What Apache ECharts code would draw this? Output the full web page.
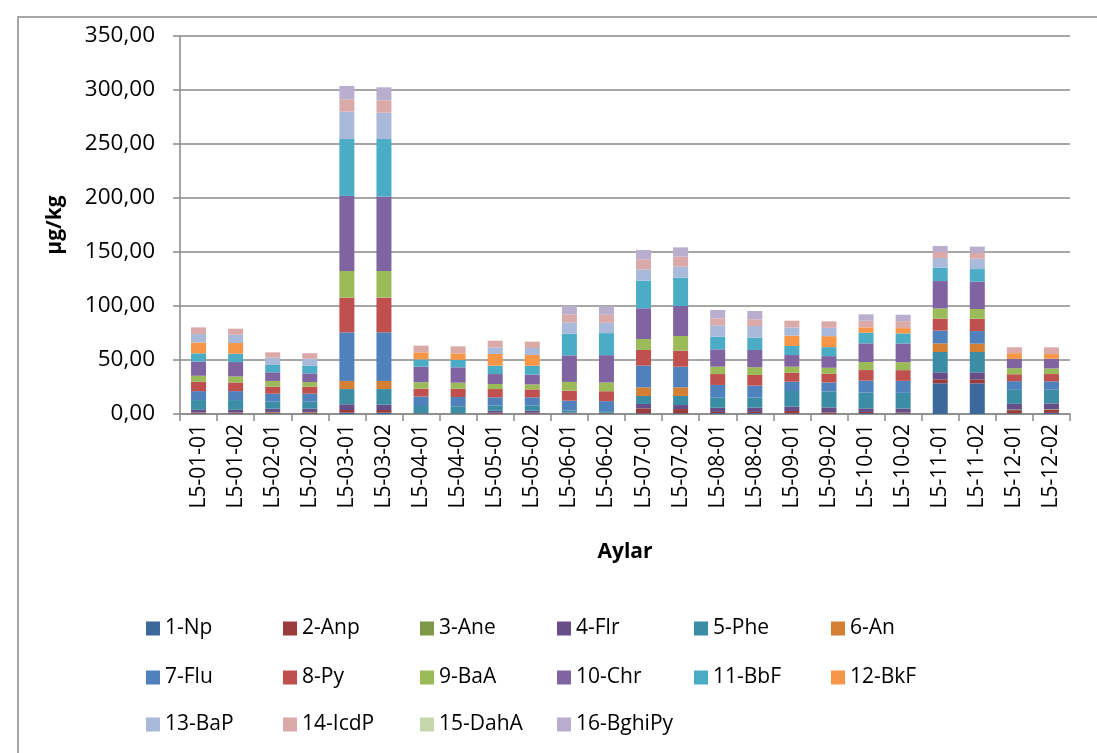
<!DOCTYPE html>
<html>
<head>
<meta charset="utf-8">
<script src="https://cdn.jsdelivr.net/npm/echarts@6/dist/echarts.min.js"></script>
<style>
  html, body { margin: 0; padding: 0; background: #fff; }
  #chart { width: 1097px; height: 753px; }
</style>
</head>
<body>
<div id="chart"></div>
<script>
var categories = ['L5-01-01','L5-01-02','L5-02-01','L5-02-02','L5-03-01','L5-03-02','L5-04-01','L5-04-02',
  'L5-05-01','L5-05-02','L5-06-01','L5-06-02','L5-07-01','L5-07-02','L5-08-01','L5-08-02',
  'L5-09-01','L5-09-02','L5-10-01','L5-10-02','L5-11-01','L5-11-02','L5-12-01','L5-12-02'];

var np     = [0.5,0.5,0.5,0.5,1.2,1.2,0.3,0.3,0.4,0.4,0.3,0.3,0.6,0.6,0.8,0.8,0.6,0.3,0.8,0.6,28.4,28.4,0.6,1];
var anp    = [0.7,0.7,1,1,2.5,2.5,0.3,0.3,0.8,0.8,0.3,0.3,4.6,4,1.1,1.1,2.2,1.2,1.1,0.8,3.7,3.7,3,3];
var ane    = [0.2,0.2,0.4,0.4,0,0,0,0,0,0,0.2,0.2,0,0,0,0,0,0,0,0,0,0,0.5,0.5];
var flr    = [2.5,2.5,3,3,5.3,4.9,0,0,1.8,1.8,0.5,0.3,4.1,3.7,3.9,4,4,4.6,3.3,3.7,6.5,6.5,5.3,5.3];
var phe    = [9,9,6.5,6.5,14.1,14.5,6.8,6.5,5,5,1.8,1.5,7.4,8.4,9.3,9.3,14.5,14.8,14.6,14.5,18.8,18.8,13,12.7];
var an     = [0,0,0,0,7.5,7.5,0,0,0,0,0,0,8,8,0,0,0,0,0,0,8,7.7,0,0];
var flu    = [8.3,8.3,7.4,7.4,45,45,8.7,8.6,7.4,7.4,9.2,9.3,20.1,19.1,11.8,11.1,8.6,8.3,11.1,11.1,11.8,11.7,8,7.7];
var py     = [8.6,8,6.5,6.5,32.1,32.1,7.4,7.7,7.7,7.4,9.3,9.2,14.5,14.8,10.1,9.9,8.3,8,9.8,9.9,11.1,11.4,6.4,6.8];
var baa    = [5.6,5.6,5.3,4.3,24.7,24.7,5.9,5.6,4.7,4.6,8.1,8.1,10.1,13.6,6.8,7.1,5.6,5.6,7.4,7.4,9.5,9,5.6,5.2];
var chr    = [13.2,13.3,8,8,69.5,68.8,14.4,14.2,9.2,9,24.6,25.3,28.5,27.8,16.1,16,10.8,10.8,17.3,17.3,25.3,25.3,8.6,9];
var bbf    = [7.6,7.7,6.8,7,52.7,53.4,6.8,7,7.8,8.3,20.1,20.4,25.6,26.2,11.7,11.4,8.4,8.3,9.9,9.3,12.4,11.7,0,0];
var bkf    = [10,9.9,0,0,0,0,6.5,5.9,10.8,9.9,0,0,0,0,0,0,9.5,10.2,4.9,4.9,0,0,5.3,4.3];
var bap    = [7.8,7.7,6.7,6.5,25.4,24.4,0,0,6.1,6.5,10.4,9.6,10.5,10.2,10.5,10.8,7.7,7.7,0,0,8.9,9.6,0,0];
var icdp   = [6.2,5.6,5,5.2,11.4,11.5,6.2,6.5,6.2,5.9,7.5,7.4,9.2,9.3,6.5,6.2,6.2,6,6.2,6.5,5.6,5.6,5.5,6.2];
var daha   = [0,0,0,0,0,0,0,0,0,0,0,0,0,0,0,0,0,0,0,0,0,0,0,0];
var bghipy = [0,0,0,0,12.3,12,0,0,0,0,8,8,8.7,8.6,7.7,7.7,0,0,5.9,5.9,5.6,5.6,0,0];

var seriesNames = ['1-Np','2-Anp','3-Ane','4-Flr','5-Phe','6-An','7-Flu','8-Py','9-BaA','10-Chr',
  '11-BbF','12-BkF','13-BaP','14-IcdP','15-DahA','16-BghiPy'];
var seriesData = [np, anp, ane, flr, phe, an, flu, py, baa, chr, bbf, bkf, bap, icdp, daha, bghipy];
var colors = ['#3d689c','#9c3c3a','#7e9a48','#664e88','#3a8da4','#d47f33',
  '#4f81bd','#c0504d','#9bbb59','#8064a2','#4bacc6','#f79646',
  '#a9b9d9','#dba9a8','#c6d8ab','#b9aecd'];

var font = 'Open Sans';

function fmt(v) {
  return v.toFixed(2).replace('.', ',');
}

var series = seriesNames.map(function (name, i) {
  return {
    name: name,
    type: 'bar',
    stack: 'total',
    barWidth: 15,
    itemStyle: { color: colors[i] },
    emphasis: { disabled: true },
    data: seriesData[i]
  };
});

// one legend per item so the columns line up like the original
var legendRows = [618, 667, 714];
var legends = seriesNames.map(function (name, i) {
  return {
    data: [name],
    left: 146 + (i % 6) * 137,
    top: legendRows[Math.floor(i / 6)],
    padding: 0,
    icon: 'rect',
    itemWidth: 14,
    itemHeight: 14,
    textStyle: { fontFamily: font, fontSize: 21, color: '#000' }
  };
});

var chart = echarts.init(document.getElementById('chart'));
chart.setOption({
  animation: false,
  color: colors,
  textStyle: { fontFamily: font },
  graphic: [{
    type: 'rect',
    shape: { x: 18, y: 17, width: 1200, height: 900 },
    style: { fill: 'none', stroke: '#8a8a8a', lineWidth: 1.5 },
    silent: true
  }],
  grid: { left: 180, right: 27, top: 36, bottom: 339 },
  legend: legends,
  xAxis: {
    type: 'category',
    data: categories,
    name: 'Aylar',
    nameLocation: 'middle',
    nameGap: 128,
    nameTextStyle: { fontFamily: font, fontSize: 21, fontWeight: 'bold', color: '#000' },
    axisLine: { lineStyle: { color: '#8a8a8a', width: 1.5 } },
    axisTick: { show: true, length: 7, lineStyle: { color: '#8a8a8a', width: 1.5 } },
    axisLabel: { rotate: 90, margin: 10, fontFamily: font, fontSize: 21, color: '#000' }
  },
  yAxis: {
    type: 'value',
    min: 0,
    max: 350,
    interval: 50,
    name: 'µg/kg',
    nameLocation: 'middle',
    nameGap: 114,
    nameTextStyle: { fontFamily: font, fontSize: 21, fontWeight: 'bold', color: '#000' },
    axisLine: { show: true, lineStyle: { color: '#8a8a8a', width: 1.5 } },
    axisTick: { show: true, inside: false, length: 7, lineStyle: { color: '#8a8a8a', width: 1.5 } },
    axisLabel: { margin: 25, fontFamily: font, fontSize: 22.5, color: '#000', formatter: fmt },
    splitLine: { lineStyle: { color: '#8a8a8a', width: 1.5 } }
  },
  series: series
});
</script>
</body>
</html>
